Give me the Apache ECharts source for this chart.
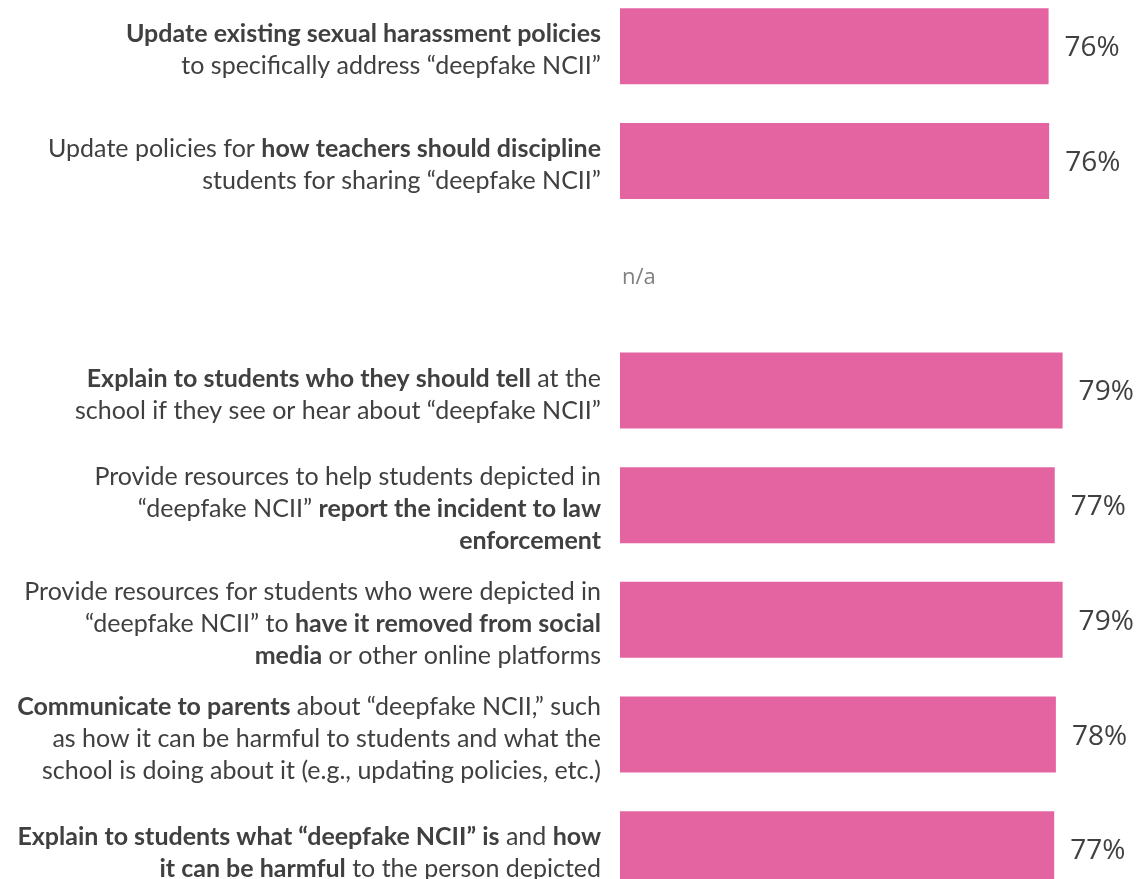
<!DOCTYPE html>
<html><head><meta charset="utf-8">
<script src="https://cdn.jsdelivr.net/npm/echarts@6/dist/echarts.min.js"></script>
<style>html,body{margin:0;padding:0;background:#fff;overflow:hidden}#chart{width:1148px;height:879px;}</style>
</head><body><div id="chart"></div>
<script>
const categories = [
  "{b|Update existing sexual harassment policies}\n{r|to specifically address “deepfake NCII”}",
  "{r|Update policies for }{b|how teachers should discipline}\n{r|students for sharing “deepfake NCII”}",
  "",
  "{b|Explain to students who they should tell}{r| at the}\n{r|school if they see or hear about “deepfake NCII”}",
  "{r|Provide resources to help students depicted in}\n{r|“deepfake NCII” }{b|report the incident to law}\n{b|enforcement}",
  "{r|Provide resources for students who were depicted in}\n{r|“deepfake NCII” to }{b|have it removed from social}\n{b|media}{r| or other online platforms}",
  "{b|Communicate to parents}{r| about “deepfake NCII,” such}\n{r|as how it can be harmful to students and what the}\n{r|school is doing about it (e.g., updating policies, etc.)}",
  "{b|Explain to students what “deepfake NCII” is}{r| and }{b|how}\n{b|it can be harmful}{r| to the person depicted}"
];
const values = [76.3, 76.4, null, 78.8, 77.4, 78.8, 77.6, 77.3];
const missingText = "n/a";

const BAR = '#E464A1';
const TXT = '#404040';
const data = values.map(v => v === null
  ? {value: 0, label: {formatter: missingText, color: '#808080', fontSize: 22, distance: 2}}
  : {value: v});

const chart = echarts.init(document.getElementById('chart'), null, {renderer: 'canvas'});
chart.setOption({
  animation: false,
  backgroundColor: '#ffffff',
  grid: {left: 620, right: 0, top: -11, height: 917.6, containLabel: false, outerBoundsMode: 'none'},
  xAxis: {type: 'value', min: 0, max: 94, show: false},
  yAxis: {
    type: 'category', inverse: true, data: categories,
    axisLine: {show: false}, axisTick: {show: false}, splitLine: {show: false},
    axisLabel: {
      margin: 19, align: 'right', padding: [8, 0, 0, 0],
      rich: {
        b: {fontFamily: 'Lato', fontWeight: 'bold', fontSize: 25, color: TXT, lineHeight: 32},
        r: {fontFamily: 'Lato', fontWeight: 'normal', fontSize: 25, color: TXT, lineHeight: 32}
      }
    }
  },
  series: [{
    type: 'bar', data: data, barWidth: 76,
    itemStyle: {color: BAR},
    label: {
      show: true, position: 'right', distance: 16, offset: [0, 2],
      fontFamily: 'Open Sans', fontSize: 28, color: TXT,
      formatter: p => Math.round(p.value) + '%'
    }
  }]
});
</script></body></html>
